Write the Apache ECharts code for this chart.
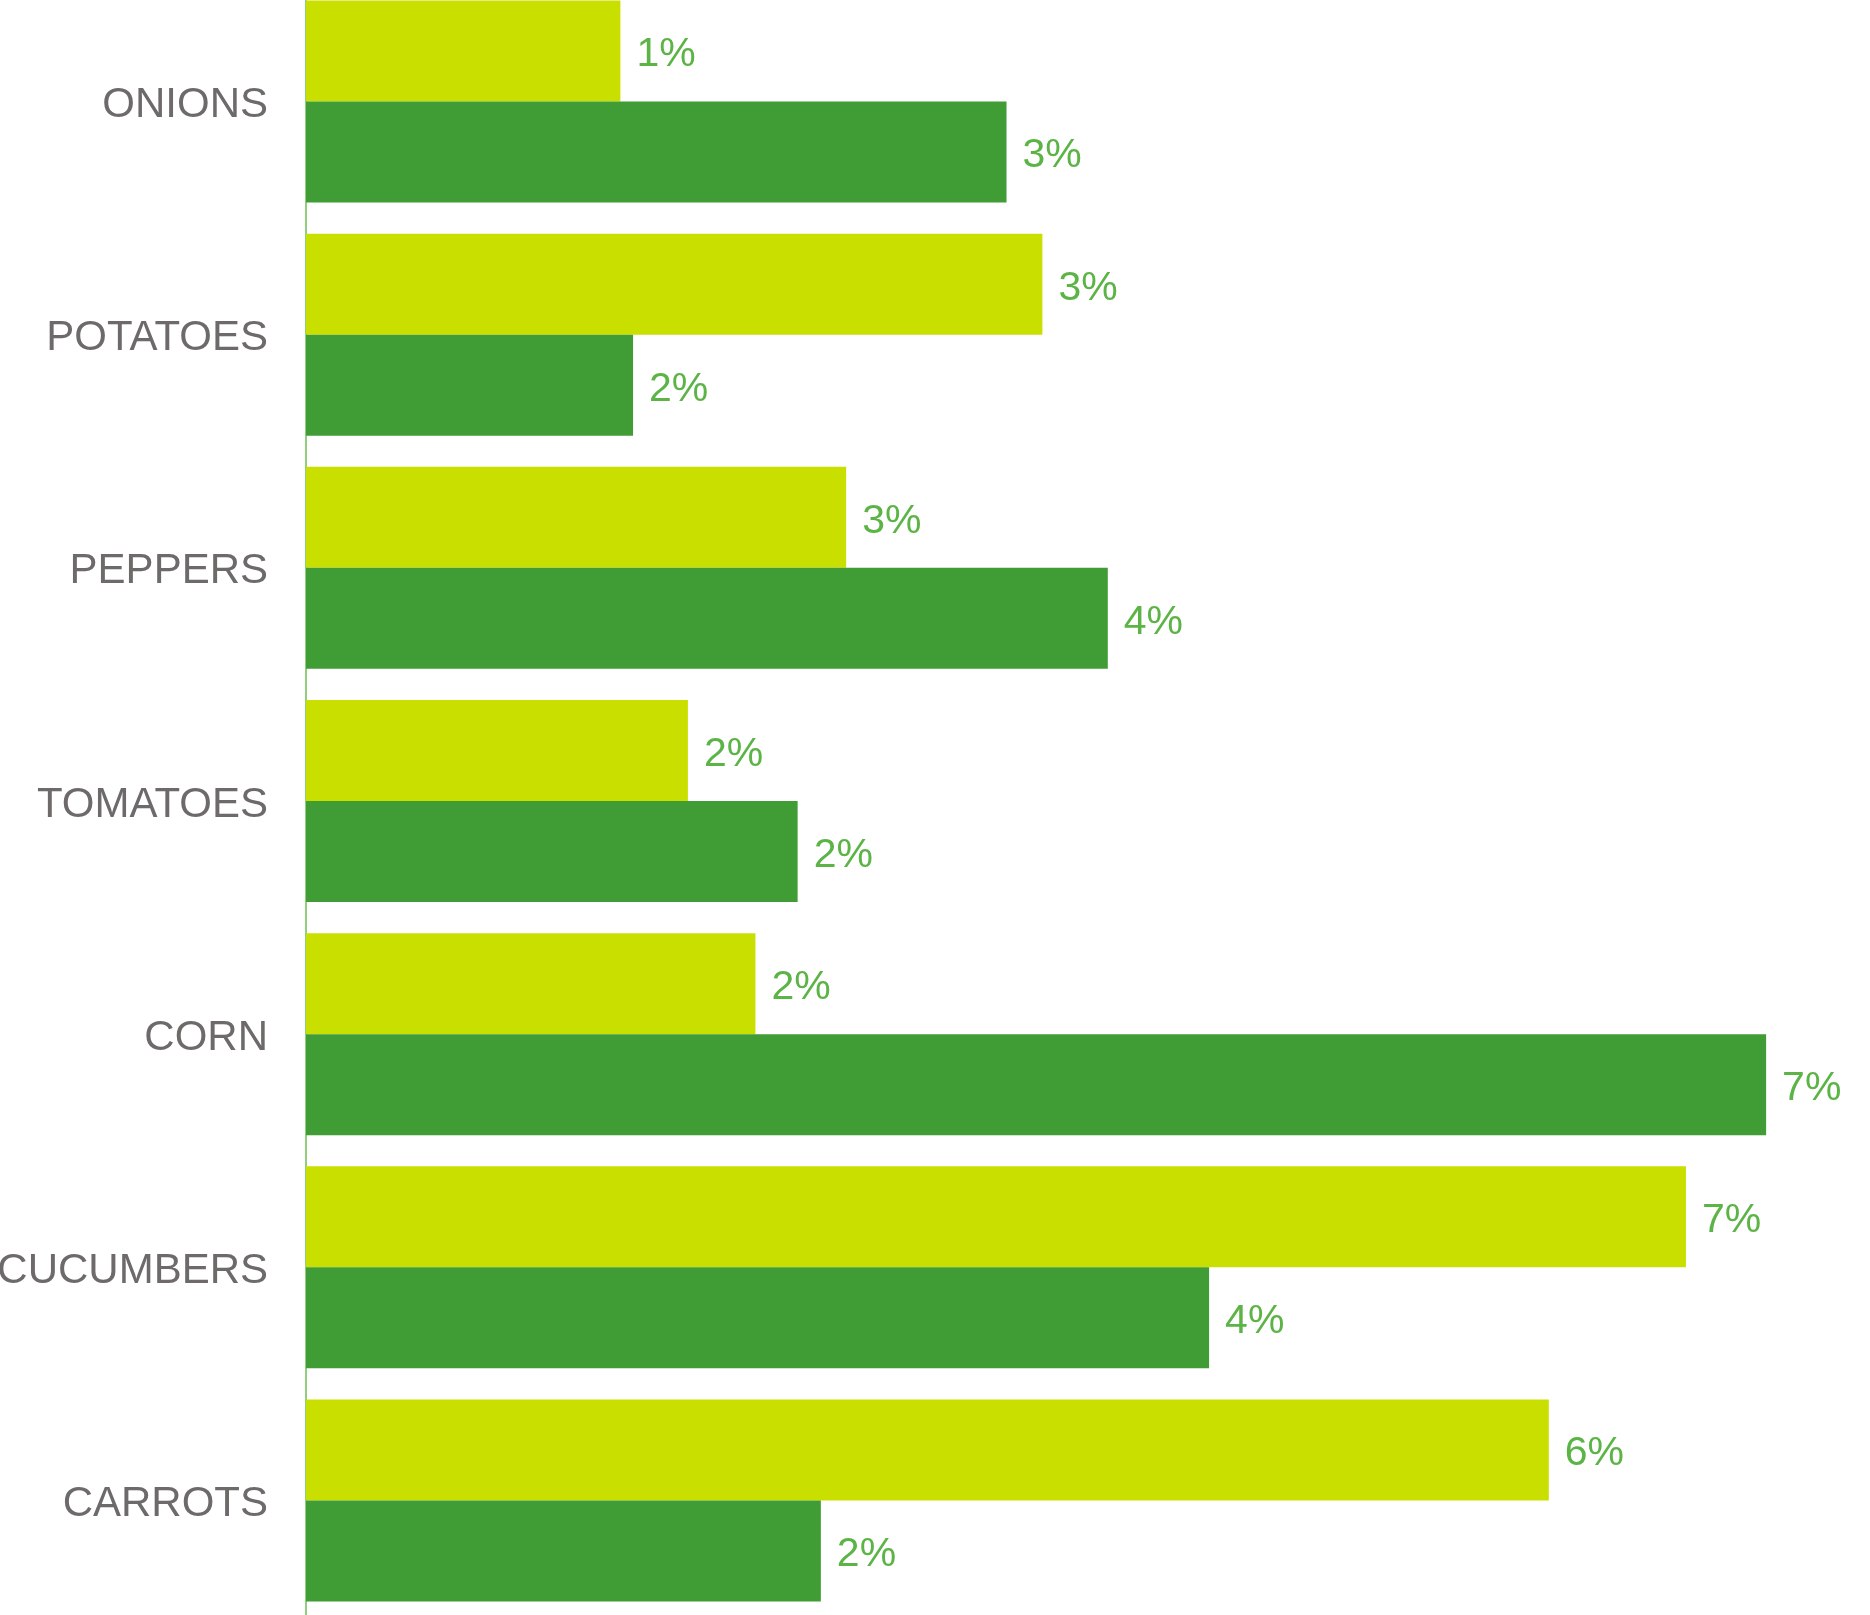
<!DOCTYPE html>
<html>
<head>
<meta charset="utf-8">
<script src="https://cdn.jsdelivr.net/npm/echarts@6/dist/echarts.min.js"></script>
<style>
  html, body { margin: 0; padding: 0; background: #fff; }
  #chart { width: 1870px; height: 1615px; }
</style>
</head>
<body>
<div id="chart"></div>
<script>
// categories, top to bottom
const crops = ['ONIONS', 'POTATOES', 'PEPPERS', 'TOMATOES', 'CORN', 'CUCUMBERS', 'CARROTS']
// values in percent
const limeValues = [1.49, 3.49, 2.56, 1.81, 2.13, 6.54, 5.89]
const greenValues = [3.32, 1.55, 3.80, 2.33, 6.92, 4.28, 2.44]

const font = '"Liberation Sans", Arial, sans-serif'
const valueLabel = {
  show: true,
  position: 'right',
  distance: 16,
  offset: [0, 4],
  color: '#5cb346',
  fontSize: 41,
  fontFamily: font,
  formatter: p => Math.round(p.value) + '%'
}

const chart = echarts.init(document.getElementById('chart'))
chart.setOption({
  animation: false,
  grid: {
    left: 306, right: 87, top: -15, bottom: -2,
    containLabel: false, outerBoundsMode: 'none'
  },
  xAxis: {
    type: 'value', min: 0, max: 7,
    show: false
  },
  yAxis: {
    type: 'category',
    data: crops,
    inverse: true,
    axisLine: { lineStyle: { color: '#6cbf55', width: 1.5 } },
    axisTick: { show: false },
    axisLabel: {
      margin: 38,
      formatter: v => '{c|' + v + '}',
      rich: {
        c: { color: '#6d6a69', fontSize: 42, fontFamily: font, padding: [8, 0, 0, 0] }
      }
    }
  },
  series: [
    {
      type: 'bar', data: limeValues,
      barWidth: 101, barGap: '0%',
      itemStyle: { color: '#c9df00' },
      label: valueLabel
    },
    {
      type: 'bar', data: greenValues,
      barWidth: 101,
      itemStyle: { color: '#409c35' },
      label: valueLabel
    }
  ]
})
</script>
</body>
</html>
